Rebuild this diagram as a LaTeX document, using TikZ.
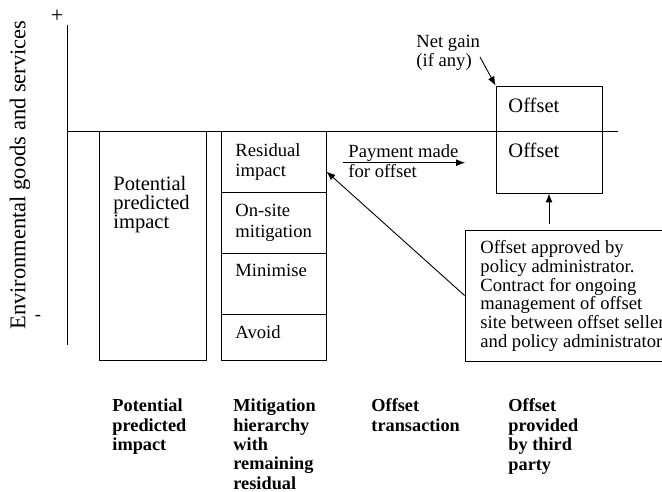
\documentclass[tikz,border=0pt]{standalone}
\usepackage{fontspec}
\setmainfont{Liberation Serif}
\usetikzlibrary{arrows.meta}
\begin{document}
\begin{tikzpicture}[>={Latex[length=9pt,width=7pt]}, x=1pt, y=-1pt, line width=0.9pt,
  box/.style={draw, inner sep=0pt},
  txt/.style={align=left, inner sep=0pt, anchor=north west, font=\fontsize{18.6}{20.5}\selectfont},
  big/.style={align=left, inner sep=0pt, anchor=north west, font=\fontsize{20.5}{19.2}\selectfont},
  hdr/.style={align=left, inner sep=0pt, anchor=north west, font=\fontsize{18.3}{19.4}\selectfont\bfseries}]
\useasboundingbox (0,0) rectangle (662,492);
\clip (0,0) rectangle (662,492);
% Eixos
\coordinate (ytop) at (67,25);
\coordinate (ybot) at (67,345);
\coordinate (orig) at (67,131);
\coordinate (xend) at (618,131);
\draw (ytop) -- (ybot);
\draw (orig) -- (xend);
\node[font=\fontsize{22}{24}\selectfont] (plus) at (57,16) {+};
\node[font=\fontsize{18.6}{20}\selectfont] (minus) at (38,318) {-};
\node[rotate=90, font=\fontsize{22.5}{24}\selectfont] (ylab) at (20,175) {Environmental goods and services};
% Impacto previsto
\node[box, minimum width=107pt, minimum height=229pt] (imp) at (152.5,245.5) {};
\node[big] (imptxt) at (113,175.5) {Potential\\predicted\\impact};
% Hierarquia de mitigacao
\node[box, minimum width=105pt, minimum height=61pt] (res) at (273.5,161.5) {};
\node[box, minimum width=105pt, minimum height=61pt] (ons) at (273.5,222.5) {};
\node[box, minimum width=105pt, minimum height=61pt] (mini) at (273.5,283.5) {};
\node[box, minimum width=105pt, minimum height=46pt] (avo) at (273.5,337) {};
\node[txt] (restxt) at (235,143) {Residual\\impact};
\node[txt] (onstxt) at (235,204) {On-site\\mitigation};
\node[txt] (minitxt) at (235,264) {Minimise};
\node[txt] (avotxt) at (235,325) {Avoid};
% Transacao
\node[txt] (paytxt) at (348,143.7) {Payment made\\for offset};
\coordinate (pays) at (343,162.7);
\coordinate (paye) at (465,162.7);
\draw[->] (pays) -- (paye);
% Compensacao
\node[box, minimum width=106pt, minimum height=45pt] (gain) at (549,108.5) {};
\node[box, minimum width=106pt, minimum height=62pt] (off) at (549,162) {};
\node[big] (gaintxt) at (508,97.5) {Offset};
\node[big] (offtxt) at (508,142.5) {Offset};
\node[txt, font=\fontsize{18.6}{19}\selectfont] (net) at (416,35) {Net gain\\(if any)};
\coordinate (nets) at (480,57);
\draw[->] (nets) -- (gain.north west);
% Contrato
\node[box, minimum width=235pt, minimum height=131pt] (pol) at (582.5,295.5) {};
\node[txt, font=\fontsize{18.6}{18.8}\selectfont] (poltxt) at (480,240) {Offset approved by\\policy administrator.\\Contract for ongoing\\management of offset\\site between offset seller\\and policy administrator};
\coordinate (polup) at (549,224);
\draw[->] (polup) -- (off.south);
\draw[->] (pol.west) -- ([yshift=-10pt]res.east);
% Rotulos inferiores
\node[hdr] (h1) at (112,398.5) {Potential\\predicted\\impact};
\node[hdr] (h2) at (233,398.5) {Mitigation\\hierarchy\\with\\remaining\\residual};
\node[hdr] (h3) at (371,398.5) {Offset\\transaction};
\node[hdr] (h4) at (508,398.5) {Offset\\provided\\by third\\party};
\end{tikzpicture}
\end{document}
